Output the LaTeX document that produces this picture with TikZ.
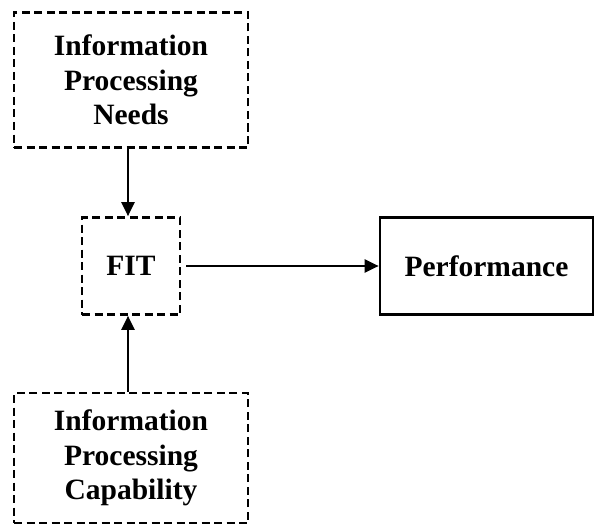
\documentclass[tikz,border=0pt]{standalone}
\usepackage{fontspec}
\setmainfont{Liberation Serif}
\usetikzlibrary{arrows.meta}
\begin{document}
\begin{tikzpicture}[x=1pt,y=-1pt,
  txt/.style={font=\fontsize{29.5}{34.5}\selectfont\bfseries, align=center, inner sep=0pt},
  dbox/.style={draw, line width=2.7pt, dash pattern=on 8pt off 4.5pt, minimum width=#1},
  sbox/.style={draw, line width=2.7pt},
  arr/.style={line width=2.2pt, -{Triangle[length=14pt,width=13pt]}}
]
\useasboundingbox (0,0) rectangle (595,527);
\node[txt, dbox=234pt, minimum height=135pt] (needs) at (131,80) {Information\\Processing\\Needs};
\node[txt, dbox=98pt, minimum height=97pt] (fit) at (131,266) {FIT};
\node[txt, sbox, minimum width=213pt, minimum height=97pt] (perf) at (486.5,266) {Performance};
\node[txt, dbox=234pt, minimum height=130pt] (cap) at (131,458) {Information\\Processing\\Capability};
\draw[arr] ([xshift=-3pt]needs.south) -- ([xshift=-3pt]fit.north);
\draw[arr] ([xshift=-3pt]cap.north) -- ([xshift=-3pt]fit.south);
\draw[arr, shorten <=5pt] (fit.east) -- (perf.west);
\end{tikzpicture}
\end{document}
